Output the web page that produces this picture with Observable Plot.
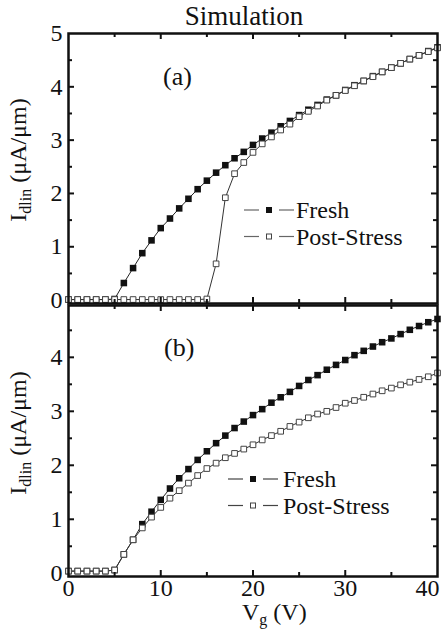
<!DOCTYPE html>
<html><head><meta charset="utf-8">
<script src="https://cdn.jsdelivr.net/npm/d3@7"></script>
<script src="https://cdn.jsdelivr.net/npm/@observablehq/plot@0.6"></script>
<style>
body{margin:0;background:#fff;}
#wrap{position:relative;width:443px;height:636px;overflow:hidden;font-family:"Liberation Serif","Times New Roman",serif;color:#111;}
#wrap svg.plt{position:absolute;left:0;}
.lbl{position:absolute;white-space:nowrap;font-size:24px;line-height:1;}
.lbl sub{font-size:16px;vertical-align:baseline;position:relative;top:5px;}
</style></head><body><div id="wrap"></div>
<script>
// Gate voltage (V)
const vg = [0,1,2,3,4,5,6,7,8,9,10,11,12,13,14,15,16,17,18,19,20,21,22,23,24,25,26,27,28,29,30,31,32,33,34,35,36,37,38,39,40];
// Panel (a) Idlin (uA/um)
const freshA = [0.01,0.01,0.01,0.01,0.01,0.02,0.32,0.60,0.88,1.12,1.35,1.53,1.72,1.90,2.08,2.24,2.39,2.53,2.66,2.78,2.91,3.03,3.14,3.26,3.36,3.47,3.57,3.66,3.76,3.84,3.94,4.03,4.11,4.20,4.28,4.36,4.44,4.52,4.59,4.67,4.74];
const postA  = [0.01,0.01,0.01,0.01,0.01,0.01,0.01,0.01,0.01,0.01,0.01,0.01,0.01,0.01,0.01,0.02,0.68,1.92,2.37,2.58,2.77,2.93,3.06,3.19,3.30,3.44,3.54,3.64,3.75,3.84,3.93,4.02,4.11,4.19,4.28,4.36,4.44,4.52,4.59,4.66,4.73];
// Panel (b)
const freshB = [0.04,0.04,0.04,0.04,0.04,0.06,0.35,0.62,0.91,1.14,1.36,1.57,1.76,1.93,2.10,2.26,2.41,2.55,2.69,2.81,2.93,3.04,3.16,3.26,3.36,3.47,3.58,3.67,3.77,3.86,3.95,4.04,4.12,4.20,4.28,4.35,4.43,4.51,4.58,4.65,4.71];
const postB  = [0.04,0.04,0.04,0.04,0.04,0.06,0.35,0.62,0.84,1.04,1.22,1.39,1.53,1.67,1.81,1.94,2.04,2.14,2.22,2.30,2.38,2.47,2.55,2.63,2.72,2.80,2.88,2.95,3.00,3.07,3.15,3.20,3.26,3.32,3.38,3.43,3.49,3.54,3.59,3.64,3.71];
// ticks
const yTicksA = [0,1,2,3,4,5];
const yTicksB = [0,1,2,3,4];
const yMinor = [0.5,1.5,2.5,3.5,4.5];
const yMajor = [1,2,3,4];
const xMajor = [10,20,30];
const xMinor = [5,15,25,35];
const xLabels = [0,10,20,30];
const xLabelLast = [40];
const seriesNames = ["Fresh","Post-Stress"];

const W = 443, ML = 68, MR = 6, FW = W - ML - MR;
const wrap = document.getElementById("wrap");
const fmt = d => String(d);

function rows(arr){ return vg.map((v,i)=>({v, y: arr[i]})); }

function panel({fresh, post, yDomain, height, mt, mb, yTicks, top, bottomLabels}){
  const FH = height - mt - mb;
  const dF = rows(fresh), dP = rows(post);
  const tk = {stroke:"#111", strokeWidth:2};
  const marks = [
    Plot.line(dF, {x:"v", y:"y", stroke:"#222", strokeWidth:1}),
    Plot.dot(dF, {x:"v", y:"y", symbol:"square", r:3.7, fill:"#111", stroke:"none"}),
    Plot.line(dP, {x:"v", y:"y", stroke:"#333", strokeWidth:1}),
    Plot.dot(dP, {x:"v", y:"y", symbol:"square", r:3.2, fill:"white", stroke:"#444", strokeWidth:1}),
    // inward ticks
    Plot.ruleY(yMajor, {y:d=>d, insetRight: FW-6, ...tk}),
    Plot.ruleY(yMinor, {y:d=>d, insetRight: FW-4, ...tk}),
    Plot.ruleY(yMajor, {y:d=>d, insetLeft: FW-6, ...tk}),
    Plot.ruleY(yMinor, {y:d=>d, insetLeft: FW-4, ...tk}),
    Plot.ruleX(xMajor, {x:d=>d, insetTop: FH-6, ...tk}),
    Plot.ruleX(xMinor, {x:d=>d, insetTop: FH-4, ...tk}),
    Plot.ruleX(xMajor, {x:d=>d, insetBottom: FH-6, ...tk}),
    Plot.ruleX(xMinor, {x:d=>d, insetBottom: FH-4, ...tk}),
    Plot.axisY(yTicks, {anchor:"left", tickSize:0, tickPadding:6, fontSize:24, fill:"#111", tickFormat:fmt, label:null}),
    Plot.frame({stroke:"#111", strokeWidth:2.5})
  ];
  if (bottomLabels){
    marks.push(Plot.axisX(xLabels, {anchor:"bottom", tickSize:0, tickPadding:2, fontSize:24, fill:"#111", tickFormat:fmt, label:null}));
    marks.push(Plot.axisX(xLabelLast, {anchor:"bottom", tickSize:0, tickPadding:2, fontSize:24, fill:"#111", tickFormat:fmt, dx:-10, label:null}));
  }
  const svg = Plot.plot({
    width: W, height,
    marginLeft: ML, marginRight: MR, marginTop: mt, marginBottom: mb,
    x: {domain:[0,40], axis:null},
    y: {domain:yDomain, axis:null},
    style: {fontFamily:'"Liberation Serif","Times New Roman",serif', fontSize:"24px", background:"transparent", overflow:"visible", color:"#111"},
    marks
  });
  svg.classList.add("plt");
  svg.style.position = "absolute";
  svg.style.top = top + "px";
  svg.style.left = "0px";
  wrap.appendChild(svg);
}

panel({fresh:freshA, post:postA, yDomain:[-0.064,5], height:310, mt:33, mb:7, yTicks:yTicksA, top:0, bottomLabels:false});
panel({fresh:freshB, post:postB, yDomain:[-0.06,4.96], height:340, mt:7, mb:62, yTicks:yTicksB, top:298, bottomLabels:true});

function addLabel(html, css){
  const d = document.createElement("div");
  d.className = "lbl";
  d.innerHTML = html;
  Object.assign(d.style, css);
  wrap.appendChild(d);
  return d;
}
// title
addLabel("Simulation", {left:"244px", top:"3px", fontSize:"27px", transform:"translateX(-50%)"});
// panel tags
addLabel("(a)", {left:"163px", top:"64px", fontSize:"26px"});
addLabel("(b)", {left:"164px", top:"335px", fontSize:"26px"});
// y labels
const yl = 'I<sub>dlin</sub> (μA/μm)';
addLabel(yl, {left:"18px", top:"160px", transform:"translate(-50%,-50%) rotate(-90deg)"});
addLabel(yl, {left:"18px", top:"433px", transform:"translate(-50%,-50%) rotate(-90deg)"});
// x label
addLabel('V<sub>g</sub> (V)', {left:"242px", top:"602px", lineHeight:"0.9"});

// legends
function legend(x0, y0, dy, textX, lineColor){
  const svg = d3.select(wrap).append("svg")
    .style("position","absolute").style("left","0px").style("top","0px")
    .attr("width", W).attr("height", 636).style("pointer-events","none");
  seriesNames.forEach((name,i)=>{
    const y = y0 + i*dy;
    const g = svg.append("g");
    g.append("line").attr("x1",x0).attr("x2",x0+15).attr("y1",y).attr("y2",y).attr("stroke",lineColor).attr("stroke-width",1.2);
    g.append("line").attr("x1",x0+35).attr("x2",x0+50).attr("y1",y).attr("y2",y).attr("stroke",lineColor).attr("stroke-width",1.2);
    if (i===0) g.append("rect").attr("x",x0+22).attr("y",y-3).attr("width",6).attr("height",6).attr("fill","#111");
    else g.append("rect").attr("x",x0+22.5).attr("y",y-2.5).attr("width",5).attr("height",5).attr("fill","white").attr("stroke","#444").attr("stroke-width",1);
    g.append("text").attr("x",textX).attr("y",y+8).attr("font-family",'"Liberation Serif","Times New Roman",serif').attr("font-size",24).attr("fill","#111").text(name);
  });
}
legend(244, 210, 26.5, 296, "#666");
legend(228, 479, 26.5, 283, "#444");
</script>
</body></html>
